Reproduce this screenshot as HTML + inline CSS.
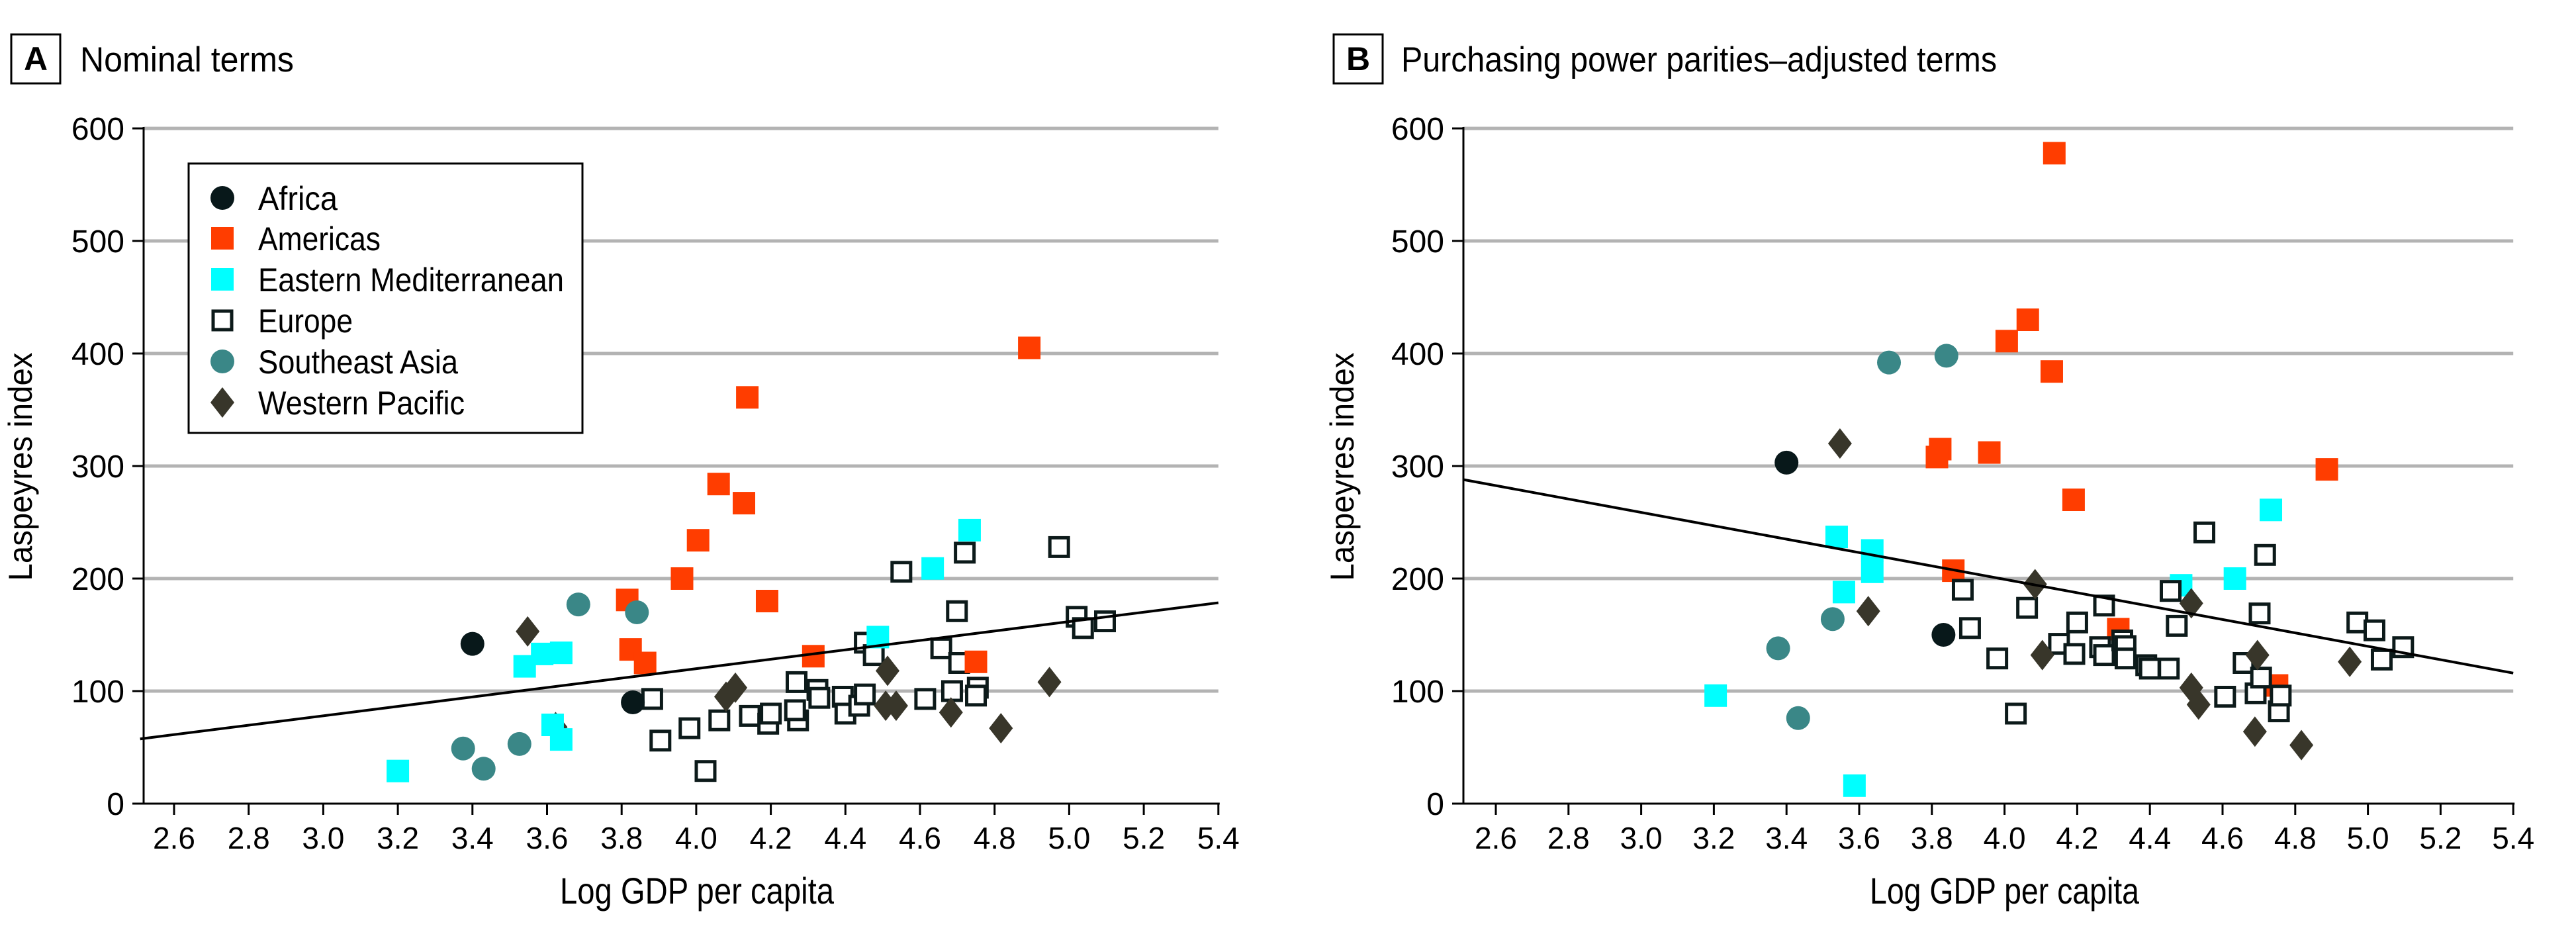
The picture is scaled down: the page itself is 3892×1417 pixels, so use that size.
<!DOCTYPE html>
<html><head><meta charset="utf-8"><style>
html,body{margin:0;padding:0;background:#fff;}
svg{display:block;font-family:"Liberation Sans",sans-serif;}
</style></head><body>
<svg id="fig" width="3892" height="1417" viewBox="0 0 3892 1417" xmlns="http://www.w3.org/2000/svg">
<g>
<rect x="17" y="52" width="74" height="74" fill="none" stroke="#000" stroke-width="3"/>
<text x="54" y="106" font-size="50" font-weight="bold" text-anchor="middle">A</text>
<text x="121" y="108" font-size="53" textLength="323" lengthAdjust="spacingAndGlyphs">Nominal terms</text>
</g>
<g>
<rect x="2015" y="52" width="74" height="74" fill="none" stroke="#000" stroke-width="3"/>
<text x="2052" y="106" font-size="50" font-weight="bold" text-anchor="middle">B</text>
<text x="2117" y="108" font-size="53" textLength="900" lengthAdjust="spacingAndGlyphs">Purchasing power parities–adjusted terms</text>
</g>
<g id="panelA"></g>
<g id="panelB"></g>
</svg>
<script>
var xTicks=[2.6,2.8,3.0,3.2,3.4,3.6,3.8,4.0,4.2,4.4,4.6,4.8,5.0,5.2,5.4];
var yTicks=[0,100,200,300,400,500,600];
var regions=["Africa","Americas","Eastern Mediterranean","Europe","Southeast Asia","Western Pacific"];
// Panel A data
var aAfricaX=[3.40,3.83]; var aAfricaY=[142,90];
var aAmerX=[3.815,3.824,3.863,3.962,4.005,4.06,4.128,4.137,4.19,4.314,4.75,4.893];
var aAmerY=[181,137,125,200,234,284,267,361,180,131,126,405];
var aEmedX=[3.20,3.54,3.587,3.638,3.615,3.638,4.487,4.634,4.733];
var aEmedY=[29,122,133,134,70,57,148,209,243];
var aEurX=[3.882,3.904,3.982,4.025,4.062,4.144,4.193,4.20,4.269,4.273,4.265,4.325,4.33,4.393,4.40,4.437,4.452,4.452,4.476,4.55,4.614,4.657,4.686,4.699,4.705,4.72,4.755,4.75,4.973,5.02,5.037,5.096];
var aEurY=[93,56,67,29,74,78,71,80,108,74,83,101,94,95,80,87,97,143,132,206,93,138,100,171,125,223,103,96,228,166,156,162];
var aSeaX=[3.375,3.43,3.526,3.684,3.841]; var aSeaY=[49,31,53,177,170];
var aWpX=[3.548,3.623,4.08,4.105,4.513,4.508,4.536,4.683,4.817,4.947];
var aWpY=[153,68,95,103,118,87,87,81,67,108];
var aTrendX=[2.509,5.4]; var aTrendY=[57.5,178.5];
// Panel B data
var bAfricaX=[3.40,3.832]; var bAfricaY=[303,150];
var bAmerX=[4.137,4.064,4.006,4.13,3.823,3.814,3.958,4.19,3.859,4.313,4.75,4.887];
var bAmerY=[578,430,411,384,315,308,312,270,207,155,105,297];
var bEmedX=[3.205,3.538,3.558,3.636,3.636,3.587,4.486,4.634,4.733];
var bEmedY=[96,237,188,225,206,16,194,200,261];
var bEurX=[3.885,3.905,3.98,4.031,4.062,4.15,4.192,4.20,4.263,4.274,4.274,4.324,4.333,4.333,4.39,4.40,4.452,4.457,4.474,4.55,4.607,4.658,4.691,4.702,4.706,4.717,4.755,4.76,4.971,5.018,5.038,5.097];
var bEurY=[190,156,129,80,174,142,133,161,139,132,176,145,140,129,123,120,120,189,158,241,95,125,98,169,112,221,82,96,161,154,128,139];
var bSeaX=[3.377,3.432,3.527,3.682,3.84]; var bSeaY=[138,76,164,392,398];
var bWpX=[3.547,3.625,4.084,4.104,4.514,4.514,4.534,4.689,4.696,4.817,4.95];
var bWpY=[320,171,195,132,178,103,88,64,132,52,126];
var bTrendX=[2.509,5.4]; var bTrendY=[288,116];

var NS="http://www.w3.org/2000/svg";
function mk(tag,attrs,parent){var e=document.createElementNS(NS,tag);for(var k in attrs)e.setAttribute(k,attrs[k]);parent.appendChild(e);return e;}
var Y0=1214,YPER=1.70;
function ys(v){return Y0-v*YPER;}
function marker(g,type,cx,cy){
  var m;
  if(type==="Africa"){m=mk("circle",{cx:cx,cy:cy,r:18,fill:"#08181a"},g);}
  else if(type==="Americas"){m=mk("rect",{x:cx-17,y:cy-17,width:34,height:34,fill:"#ff3d00"},g);}
  else if(type==="Eastern Mediterranean"){m=mk("rect",{x:cx-17,y:cy-17,width:34,height:34,fill:"#00ffff"},g);}
  else if(type==="Europe"){m=mk("rect",{x:cx-14,y:cy-14,width:28,height:28,fill:"#fff",stroke:"#0c1a1a","stroke-width":5},g);}
  else if(type==="Southeast Asia"){m=mk("circle",{cx:cx,cy:cy,r:18,fill:"#3a8787"},g);}
  else {m=mk("polygon",{points:(cx)+","+(cy-23)+" "+(cx+18)+","+cy+" "+cx+","+(cy+23)+" "+(cx-18)+","+cy,fill:"#38362a"},g);}
  return m;
}
function draw(id,left,x26,xper,series,trendX,trendY,ylabX,xlabX1,xlabX2,withLegend){
  var g=document.getElementById(id);
  var right=x26+2.8*xper;
  function xs(v){return x26+(v-2.6)*xper;}
  yTicks.forEach(function(t){
    if(t>0){var gl=mk("line",{x1:left,x2:right,y1:ys(t),y2:ys(t),stroke:"#b3b3b3","stroke-width":5},g);
    
    }
    var tk=mk("line",{x1:left-17,x2:left,y1:ys(t),y2:ys(t),stroke:"#000","stroke-width":3},g);
    
    
    var tl=mk("text",{x:left-29,y:ys(t)+17,"font-size":48,"text-anchor":"end"},g);tl.textContent=String(t);
    
    
  });
  var ax=mk("line",{x1:left,x2:left,y1:ys(600)-2,y2:Y0,stroke:"#000","stroke-width":3},g);
  
  
  var bx=mk("line",{x1:left,x2:right+2,y1:Y0,y2:Y0,stroke:"#000","stroke-width":3},g);
  
  
  xTicks.forEach(function(t){
    var tk=mk("line",{x1:xs(t),x2:xs(t),y1:Y0,y2:Y0+17,stroke:"#000","stroke-width":3},g);
    
    
    var tl=mk("text",{x:xs(t),y:1282,"font-size":46,"text-anchor":"middle"},g);tl.textContent=t.toFixed(1);
    
    
  });
  var yl=mk("text",{x:0,y:0,"font-size":50,"text-anchor":"middle",transform:"translate("+(ylabX+17)+",705) rotate(-90)",textLength:345,lengthAdjust:"spacingAndGlyphs"},g);
  yl.textContent="Laspeyres index";
  
  
  var xl=mk("text",{x:xlabX1,y:1365,"font-size":56,textLength:xlabX2-xlabX1,lengthAdjust:"spacingAndGlyphs"},g);
  xl.textContent="Log GDP per capita";
  
  
  series.forEach(function(s){
    var sg=mk("g",{},g);
    
    
    for(var i=0;i<s.x.length;i++){
      var m=marker(sg,s.name,xs(s.x[i]),ys(s.y[i]));
      
      
    }
  });
  var tr=mk("line",{x1:xs(trendX[0]),y1:ys(trendY[0]),x2:xs(trendX[1]),y2:ys(trendY[1]),stroke:"#000","stroke-width":4},g);
  
  
  if(withLegend){
    var lg=mk("g",{},g);
    
    
    mk("rect",{x:285,y:247,width:595,height:407,fill:"#fff",stroke:"#000","stroke-width":3},lg);
    var ly=[299,360,422,484,546,608];
    regions.forEach(function(r,i){
      var eg=mk("g",{},lg);
      
      
      marker(eg,r,336,ly[i]);
      var t=mk("text",{x:390,y:ly[i]+18,"font-size":50},eg);
      var widths=[120,185,462,143,302,312];
      t.setAttribute("textLength",widths[i]);t.setAttribute("lengthAdjust","spacingAndGlyphs");
      t.textContent=r;
    });
  }
}
draw("panelA",217,263,563.5,[
 {name:"Europe",x:aEurX,y:aEurY},{name:"Western Pacific",x:aWpX,y:aWpY},
 {name:"Americas",x:aAmerX,y:aAmerY},{name:"Eastern Mediterranean",x:aEmedX,y:aEmedY},
 {name:"Southeast Asia",x:aSeaX,y:aSeaY},{name:"Africa",x:aAfricaX,y:aAfricaY}],
 aTrendX,aTrendY,31,846,1260,true);
draw("panelB",2211,2260,549,[
 {name:"Americas",x:bAmerX,y:bAmerY},{name:"Eastern Mediterranean",x:bEmedX,y:bEmedY},
 {name:"Europe",x:bEurX,y:bEurY},{name:"Western Pacific",x:bWpX,y:bWpY},
 {name:"Southeast Asia",x:bSeaX,y:bSeaY},{name:"Africa",x:bAfricaX,y:bAfricaY}],
 bTrendX,bTrendY,2028,2825,3232,false);
</script>
</body></html>
